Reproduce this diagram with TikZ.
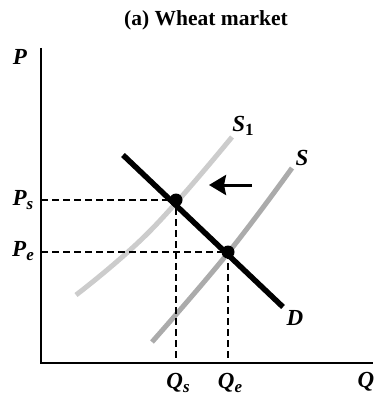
\documentclass[tikz,border=0pt]{standalone}
\usepackage{fontspec}
\setmainfont{Liberation Serif}
\usetikzlibrary{arrows.meta}
\newcommand\lbsub[1]{\raisebox{-0.45ex}{\fontsize{17}{17}\selectfont #1}}
\tikzset{
  axis/.style={line width=1.3pt},
  guide/.style={line width=1.1pt, dash pattern=on 7pt off 4pt},
  lbl/.style={font=\fontsize{23}{26}\selectfont\bfseries\itshape, inner sep=0pt},
  dotpt/.style={circle, fill=black, inner sep=0pt, minimum size=13pt},
  supplyA/.style={line width=5pt, color=black!20},
  supplyB/.style={line width=5pt, color=black!33},
}
\begin{document}
\begin{tikzpicture}[x=1pt,y=-1pt]
\useasboundingbox (0,0) rectangle (375,398);
% title
\node[font=\fontsize{21.5}{25}\selectfont\bfseries, inner sep=0pt] (title) at (206,20) {(a) Wheat market};
% axes
\coordinate (O) at (41,363);
\coordinate (ytop) at (41,48);
\coordinate (xend) at (373,363);
\draw[axis] (ytop) -- (O) -- (xend);
\node[lbl] (Plab) at (20,57) {P};
\node[lbl] (Qlab) at (366,382) {Q};
% supply curves
\draw[supplyA] plot[smooth, tension=0.7] coordinates {(76,295) (150,231) (232,137)};
\draw[supplyB] plot[smooth, tension=0.7] coordinates {(152,342) (228,253) (292,168)};
% equilibrium points
\coordinate (Eps) at (176,200);
\coordinate (Epe) at (228,252);
% guides
\coordinate (yPs) at (41,200);
\coordinate (yPe) at (41,252);
\coordinate (xQs) at (176,363);
\coordinate (xQe) at (228,363);
\draw[guide] (yPs) -- (Eps) -- (xQs);
\draw[guide] (yPe) -- (Epe) -- (xQe);
% demand
\coordinate (Dstart) at (123,155);
\coordinate (Dend) at (283,307);
\draw[line width=5.5pt] (Dstart) -- (Dend);
\node[dotpt] (dotS) at (Eps) {};
\node[dotpt] (dotE) at (Epe) {};
% arrow
\coordinate (arrTail) at (252,185);
\coordinate (arrTip) at (209,185);
\draw[line width=3pt, -{Stealth[length=17pt,width=20pt,inset=2pt]}] (arrTail) -- (arrTip);
% labels
\node[lbl] (PsLab) at (23,200) {P\lbsub{s}};
\node[lbl] (PeLab) at (23,251) {P\lbsub{e}};
\node[lbl] (QsLab) at (178,383) {Q\lbsub{s}};
\node[lbl] (QeLab) at (230,383) {Q\lbsub{e}};
\node[lbl] (S1Lab) at (243,126) {S\lbsub{\upshape 1}};
\node[lbl] (SLab) at (302,158) {S};
\node[lbl] (DLab) at (295,318) {D};
\end{tikzpicture}
\end{document}
